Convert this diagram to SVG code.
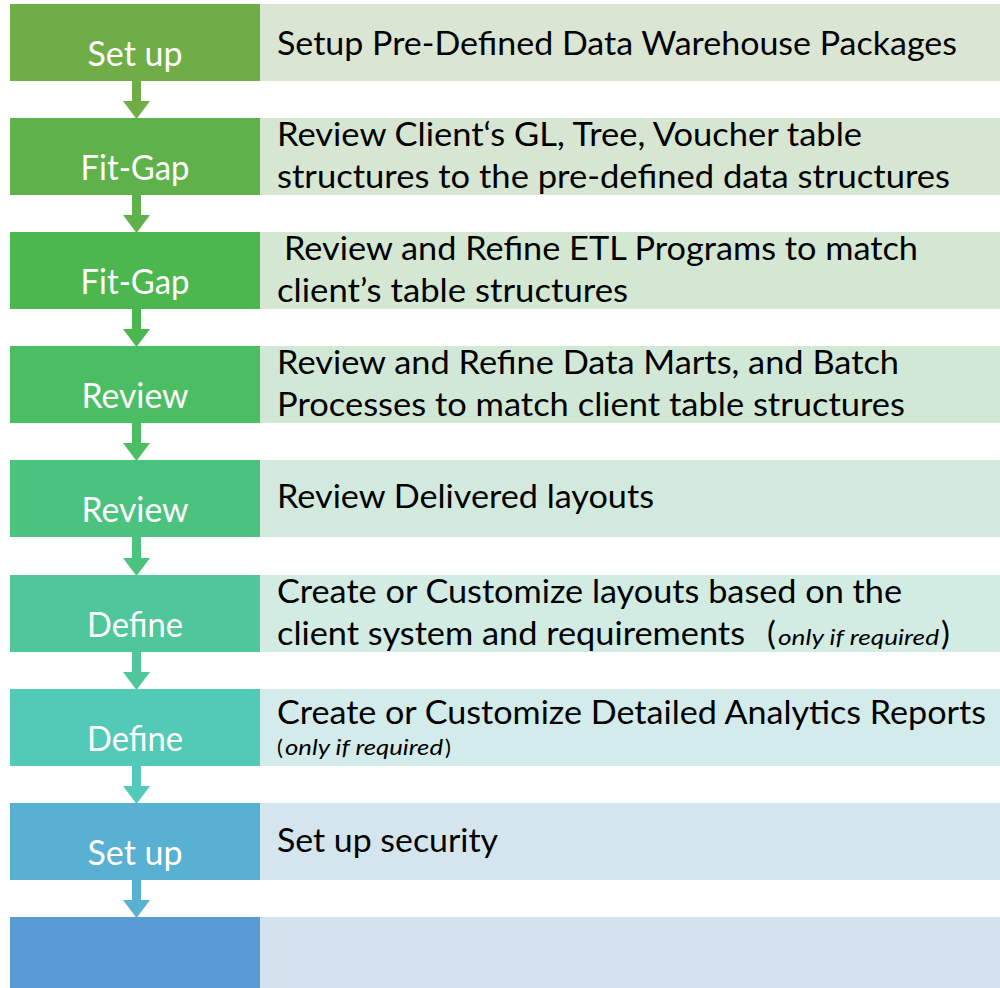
<svg xmlns="http://www.w3.org/2000/svg" width="1000" height="988" viewBox="0 0 1000 988">
<style>
.lbl{font-family:Lato,"Open Sans","Liberation Sans",sans-serif;font-size:34px;fill:#FFFFFF;text-anchor:middle}
.txt{font-family:Lato,"Open Sans","Liberation Sans",sans-serif;font-size:33px;fill:#000000}
.sm{font-size:22px;font-style:italic}
</style>
<rect width="1000" height="988" fill="#FFFFFF"/>
<g id="connectors">
<path d="M132,81 H141 V101 H150 L136.5,119 L123,101 H132 Z" fill="#70AD47"/>
<path d="M132,195 H141 V215 H150 L136.5,233 L123,215 H132 Z" fill="#5FB24B"/>
<path d="M132,309 H141 V329 H150 L136.5,347 L123,329 H132 Z" fill="#4DB74F"/>
<path d="M132,423 H141 V443 H150 L136.5,461 L123,443 H132 Z" fill="#4BBE63"/>
<path d="M132,537 H141 V558 H150 L136.5,576 L123,558 H132 Z" fill="#4CC27F"/>
<path d="M132,652 H141 V672 H150 L136.5,690 L123,672 H132 Z" fill="#4FC79A"/>
<path d="M132,766 H141 V786 H150 L136.5,804 L123,786 H132 Z" fill="#53CAB7"/>
<path d="M132,880 H141 V900 H150 L136.5,918 L123,900 H132 Z" fill="#58B0D2"/>
</g>
<g id="row1">
<rect x="10" y="4" width="250" height="77" fill="#70AD47"/>
<rect x="260" y="4" width="740" height="77" fill="#DAE5D3"/>
<text class="lbl" x="135" y="66" textLength="95" lengthAdjust="spacingAndGlyphs">Set up</text>
<text class="txt" x="277" y="55" textLength="680" lengthAdjust="spacingAndGlyphs">Setup Pre-Defined Data Warehouse Packages</text>
</g>
<g id="row2">
<rect x="10" y="118" width="250" height="77" fill="#5FB24B"/>
<rect x="260" y="118" width="740" height="77" fill="#D6E6D3"/>
<text class="lbl" x="135" y="180" textLength="109" lengthAdjust="spacingAndGlyphs">Fit-Gap</text>
<text class="txt" x="277" y="146" textLength="585" lengthAdjust="spacingAndGlyphs">Review Client‘s GL, Tree, Voucher table</text>
<text class="txt" x="277" y="188" textLength="673" lengthAdjust="spacingAndGlyphs">structures to the pre-defined data structures</text>
</g>
<g id="row3">
<rect x="10" y="232" width="250" height="77" fill="#4DB74F"/>
<rect x="260" y="232" width="740" height="77" fill="#D3E7D3"/>
<text class="lbl" x="135" y="294" textLength="109" lengthAdjust="spacingAndGlyphs">Fit-Gap</text>
<text class="txt" x="284" y="260" textLength="634" lengthAdjust="spacingAndGlyphs">Review and Refine ETL Programs to match</text>
<text class="txt" x="277" y="302" textLength="351" lengthAdjust="spacingAndGlyphs">client’s table structures</text>
</g>
<g id="row4">
<rect x="10" y="346" width="250" height="77" fill="#4BBE63"/>
<rect x="260" y="346" width="740" height="77" fill="#D2E8D7"/>
<text class="lbl" x="135" y="408" textLength="107" lengthAdjust="spacingAndGlyphs">Review</text>
<text class="txt" x="277" y="374" textLength="622" lengthAdjust="spacingAndGlyphs">Review and Refine Data Marts, and Batch</text>
<text class="txt" x="277" y="416" textLength="628" lengthAdjust="spacingAndGlyphs">Processes to match client table structures</text>
</g>
<g id="row5">
<rect x="10" y="460" width="250" height="77" fill="#4CC27F"/>
<rect x="260" y="460" width="740" height="77" fill="#D2EADD"/>
<text class="lbl" x="135" y="522" textLength="107" lengthAdjust="spacingAndGlyphs">Review</text>
<text class="txt" x="277" y="508" textLength="377" lengthAdjust="spacingAndGlyphs">Review Delivered layouts</text>
</g>
<g id="row6">
<rect x="10" y="575" width="250" height="77" fill="#4FC79A"/>
<rect x="260" y="575" width="740" height="77" fill="#D2EBE3"/>
<text class="lbl" x="135" y="637" textLength="96" lengthAdjust="spacingAndGlyphs">Define</text>
<text class="txt" x="277" y="603" textLength="625" lengthAdjust="spacingAndGlyphs">Create or Customize layouts based on the</text>
<text class="txt" x="277" y="645" textLength="468" lengthAdjust="spacingAndGlyphs">client system and requirements</text>
<text class="txt" x="767" y="645">(</text>
<text class="txt sm" x="778" y="645" textLength="161" lengthAdjust="spacingAndGlyphs">only if required</text>
<text class="txt" x="941" y="645">)</text>
</g>
<g id="row7">
<rect x="10" y="689" width="250" height="77" fill="#53CAB7"/>
<rect x="260" y="689" width="740" height="77" fill="#D3EBEA"/>
<text class="lbl" x="135" y="751" textLength="96" lengthAdjust="spacingAndGlyphs">Define</text>
<text class="txt" x="277" y="724" textLength="709" lengthAdjust="spacingAndGlyphs">Create or Customize Detailed Analytics Reports</text>
<text class="txt sm" x="277" y="755" style="font-style:normal">(</text>
<text class="txt sm" x="285" y="755" textLength="158" lengthAdjust="spacingAndGlyphs">only if required</text>
<text class="txt sm" x="445" y="755" style="font-style:normal">)</text>
</g>
<g id="row8">
<rect x="10" y="803" width="250" height="77" fill="#58B0D2"/>
<rect x="260" y="803" width="740" height="77" fill="#D4E5EE"/>
<text class="lbl" x="135" y="865" textLength="95" lengthAdjust="spacingAndGlyphs">Set up</text>
<text class="txt" x="277" y="852" textLength="221" lengthAdjust="spacingAndGlyphs">Set up security</text>
</g>
<g id="row9">
<rect x="10" y="917" width="250" height="71" fill="#5B9BD5"/>
<rect x="260" y="917" width="740" height="71" fill="#D5E1EE"/>
</g>
</svg>
